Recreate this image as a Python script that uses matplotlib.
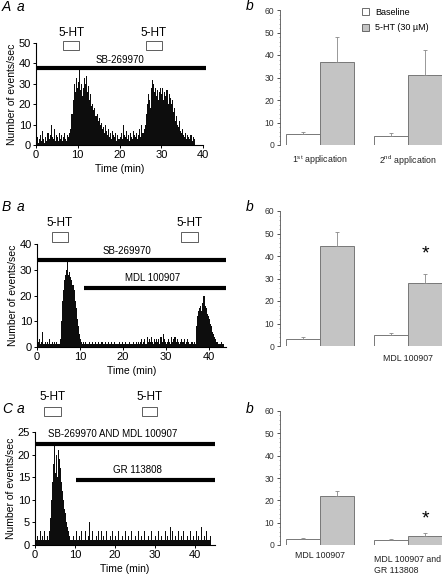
import numpy as np
import matplotlib
matplotlib.use("Agg")
import matplotlib.pyplot as plt
from matplotlib.patches import Rectangle, Patch
from matplotlib.ticker import MultipleLocator

plt.rcParams["font.family"] = ["Liberation Sans", "DejaVu Sans"]
plt.rcParams["mathtext.fontset"] = "custom"
plt.rcParams["mathtext.rm"] = "Liberation Sans"

W, H = 442, 576
BIN = 0.25  # min per histogram bin

# ---- histogram data (events/sec per bin) ----
rate_a = [
    2, 4, 1, 3, 5, 2, 7, 3,
    1, 4, 2, 6, 3, 5, 10, 4,
    3, 8, 2, 5, 4, 2, 6, 3,
    5, 2, 4, 6, 3, 2, 5, 4,
    6, 8, 15, 22, 30, 26, 33, 28,
    31, 37, 27, 30, 24, 28, 33, 30,
    34, 26, 29, 22, 25, 19, 20, 17,
    18, 14, 15, 12, 13, 10, 11, 8,
    9, 6, 10, 7, 5, 8, 4, 6,
    3, 7, 5, 4, 6, 2, 5, 3,
    4, 6, 3, 10, 5, 4, 7, 3,
    5, 2, 6, 4, 3, 7, 5, 4,
    6, 3, 5, 8, 4, 10, 6, 8,
    10, 15, 20, 25, 22, 18, 28, 32,
    30, 26, 28, 24, 27, 22, 26, 28,
    25, 28, 22, 26, 24, 27, 20, 25,
    23, 20, 22, 16, 18, 12, 14, 10,
    9, 12, 7, 6, 8, 5, 4, 6,
    3, 5, 4, 3, 5, 2, 4, 3,
]
rate_b = [
    1, 2, 3, 1, 2, 6, 1, 2,
    1, 2, 1, 3, 1, 1, 2, 1,
    2, 1, 2, 1, 1, 3, 10, 18,
    22, 26, 28, 30, 33, 28, 29, 27,
    26, 24, 22, 18, 15, 11, 8, 5,
    3, 2, 1, 2, 1, 2, 1, 1,
    2, 1, 1, 2, 1, 1, 2, 1,
    1, 2, 1, 1, 2, 1, 1, 2,
    1, 1, 2, 1, 1, 2, 1, 1,
    2, 1, 1, 1, 2, 1, 1, 2,
    1, 1, 2, 1, 1, 1, 2, 1,
    1, 2, 1, 1, 2, 1, 2, 1,
    2, 3, 1, 2, 3, 1, 4, 2,
    3, 2, 4, 2, 1, 3, 2, 3,
    2, 3, 1, 4, 2, 5, 3, 2,
    1, 2, 3, 2, 1, 4, 2, 3,
    4, 2, 3, 2, 1, 2, 3, 2,
    2, 3, 1, 2, 3, 2, 1, 2,
    2, 1, 2, 1, 8, 12, 14, 15,
    16, 14, 17, 20, 16, 15, 13, 12,
    11, 9, 8, 6, 5, 4, 3, 2,
    2, 1, 1, 2, 1, 1,
]
rate_c = [
    1, 1, 2, 1, 1, 3, 1, 2,
    1, 3, 1, 1, 2, 1, 3, 6,
    10, 14, 18, 22, 16, 20, 15, 21,
    19, 17, 14, 12, 10, 8, 7, 5,
    4, 3, 2, 1, 1, 1, 2, 1,
    1, 3, 1, 1, 2, 1, 3, 1,
    1, 1, 3, 1, 1, 2, 5, 1,
    1, 3, 1, 1, 1, 2, 1, 3,
    1, 1, 3, 1, 2, 1, 1, 3,
    1, 1, 1, 2, 1, 3, 1, 1,
    2, 1, 1, 3, 1, 1, 1, 2,
    1, 1, 3, 1, 1, 2, 1, 1,
    3, 1, 1, 1, 2, 1, 1, 3,
    1, 1, 2, 1, 1, 3, 1, 1,
    1, 2, 1, 1, 3, 1, 1, 1,
    2, 1, 1, 3, 1, 1, 2, 1,
    1, 1, 3, 1, 2, 1, 1, 4,
    1, 3, 1, 1, 2, 1, 1, 3,
    1, 1, 2, 1, 3, 1, 1, 1,
    2, 1, 1, 3, 1, 1, 2, 1,
    1, 3, 1, 2, 1, 1, 4, 1,
    1, 2, 1, 3, 1, 1, 1, 2,
]

# 5-HT application windows (min)
ht_a = [(6.5, 10.3), (26.3, 30.2)]
ht_b = [(3.5, 7.2), (33.5, 37.4)]
ht_c = [(2.25, 6.5), (26.75, 30.5)]

# drug bars: (label, start, end)
drugs_a = [("SB-269970", 0, 40.7)]
drugs_b = [("SB-269970", 0, 44), ("MDL 100907", 11, 44)]
drugs_c = [("SB-269970 AND MDL 100907", 0, 45), ("GR 113808", 10.2, 45)]

# ---- summary bar data ----
base_a = [4.7, 4.2]
base_a_err = [1.0, 1.0]
ht5_a = [36.7, 31.3]
ht5_a_err = [11.5, 10.8]
groups_a = ["1$^{\\rm st}$ application", "2$^{\\rm nd}$ application"]

base_b = [3.3, 4.7]
base_b_err = [0.5, 1.0]
ht5_b = [44.3, 28.0]
ht5_b_err = [6.2, 4.0]
groups_b = ["", "MDL 100907"]

base_c = [2.5, 2.3]
base_c_err = [0.7, 0.2]
ht5_c = [21.8, 4.0]
ht5_c_err = [2.2, 1.5]
groups_c = ["MDL 100907", ""]


def add_ax(fig, left, right, top, bottom):
    return fig.add_axes([left / W, 1 - bottom / H, (right - left) / W, (bottom - top) / H])


def trace_panel(ax, rate, xmax, ymax, ystep, ht, ht_y, drugs, drug_y, label_y):
    t = np.arange(len(rate)) * BIN
    ax.bar(t, rate, width=BIN, align="edge", color="#0d0d0d", linewidth=0)
    ax.set_xlim(0, xmax)
    ax.set_ylim(0, ymax)
    ax.set_xticks([0, 10, 20, 30, 40])
    ax.set_yticks(np.arange(0, ymax + 1, ystep))
    for s in ["top", "right"]:
        ax.spines[s].set_visible(False)
    ax.tick_params(labelsize=8, length=2.5, width=0.7, pad=1)
    ax.set_xlabel("Time (min)", fontsize=7.5, labelpad=3)
    ax.set_ylabel("Number of events/sec", fontsize=7.5, labelpad=1)
    for (t0, t1) in ht:
        ax.add_patch(Rectangle((t0, ht_y[0]), t1 - t0, ht_y[1] - ht_y[0], fill=False,
                               edgecolor="#444444", linewidth=0.6, clip_on=False))
        ax.text((t0 + t1) / 2, ht_y[2], "5-HT", ha="center", va="center", fontsize=8.5)
    for (name, t0, t1), y, ly in zip(drugs, drug_y, label_y):
        ax.plot([t0, t1], [y, y], color="black", lw=3, solid_capstyle="butt", clip_on=False)
        ax.text(ly[0], ly[1], name, ha="center", va="center", fontsize=7)


def bar_panel(ax, base, base_err, ht5, ht5_err, groups):
    x = np.arange(len(base))
    w = 0.386
    ax.bar(x - w / 2, base, width=w, color="white", edgecolor="#777777", linewidth=0.7)
    ax.bar(x + w / 2, ht5, width=w, color="#c4c4c4", edgecolor="#777777", linewidth=0.7)
    ax.errorbar(x - w / 2, base, yerr=[np.zeros(len(base)), base_err], fmt="none",
                ecolor="#888888", elinewidth=0.6, capsize=1.2, capthick=0.6)
    ax.errorbar(x + w / 2, ht5, yerr=[np.zeros(len(ht5)), ht5_err], fmt="none",
                ecolor="#888888", elinewidth=0.6, capsize=1.2, capthick=0.6)
    ax.set_xlim(-0.455, 1.386)
    ax.set_ylim(0, 60)
    ax.set_yticks(np.arange(0, 61, 10))
    ax.yaxis.set_minor_locator(MultipleLocator(2))
    for s in ["top", "right", "bottom"]:
        ax.spines[s].set_visible(False)
    ax.spines["left"].set_color("#555555")
    ax.spines["left"].set_linewidth(0.6)
    ax.tick_params(axis="y", labelsize=6.2, length=2, width=0.6, pad=2, colors="#333333")
    ax.tick_params(axis="y", which="minor", length=1, width=0.4, colors="#777777")
    ax.set_xticks([])


fig = plt.figure(figsize=(W / 100, H / 100), dpi=100)

# ---- row A ----
ax = add_ax(fig, 36, 203, 43, 145)
trace_panel(ax, rate_a, 40, 50, 10, ht_a, (46.4, 51, 55), drugs_a, [37.7], [(20, 41.7)])
ax = add_ax(fig, 280, 442, 10, 145)
bar_panel(ax, base_a, base_a_err, ht5_a, ht5_a_err, groups_a)
for i, g in enumerate(groups_a):
    ax.text(i, -3.6, g, ha="center", va="top", fontsize=6.3, color="#222222")
ax.legend(handles=[Patch(facecolor="white", edgecolor="#555555", linewidth=0.6),
                   Patch(facecolor="#c4c4c4", edgecolor="#555555", linewidth=0.6)],
          labels=["Baseline", "5-HT (30 \u00b5M)"], loc="upper left",
          bbox_to_anchor=(357 / W, 1 - 3 / H), bbox_transform=fig.transFigure,
          frameon=False, fontsize=6.5, handlelength=0.8, handleheight=0.8,
          handletextpad=0.7, labelspacing=0.75, borderpad=0)

# ---- row B ----
ax = add_ax(fig, 37, 226, 244, 347)
trace_panel(ax, rate_b, 44, 40, 10, ht_b, (40.8, 44.7, 48.2), drugs_b, [33.8, 22.8],
            [(21, 37.3), (27, 26.8)])
ax = add_ax(fig, 280, 442, 211, 346)
bar_panel(ax, base_b, base_b_err, ht5_b, ht5_b_err, groups_b)
ax.text(1, -3.6, groups_b[1], ha="center", va="top", fontsize=6.3, color="#222222")
ax.text(1 + 0.193, 41.0, "*", ha="center", va="center", fontsize=14)

# ---- row C ----
ax = add_ax(fig, 35, 215, 432, 545)
trace_panel(ax, rate_c, 45, 25, 5, ht_c, (28.5, 30.5, 32.7), drugs_c, [22.3, 14.3],
            [(19.5, 24.6), (25.7, 16.6)])
ax = add_ax(fig, 280, 442, 411, 545)
bar_panel(ax, base_c, base_c_err, ht5_c, ht5_c_err, groups_c)
ax.text(0, -2.5, groups_c[0], ha="center", va="top", fontsize=6.3, color="#222222")
ax.text(0.61, -4.5, "MDL 100907 and\nGR 113808", ha="left", va="top", fontsize=6.3,
        color="#222222", linespacing=1.25)
ax.text(1 + 0.193, 11.7, "*", ha="center", va="center", fontsize=14)

# panel letters
fig.text(2 / W, 1 - 7 / H, "A", fontsize=10, style="italic", va="center")
fig.text(17 / W, 1 - 7 / H, "a", fontsize=10, style="italic", va="center")
fig.text(2 / W, 1 - 207 / H, "B", fontsize=10, style="italic", va="center")
fig.text(17 / W, 1 - 207 / H, "a", fontsize=10, style="italic", va="center")
fig.text(2 / W, 1 - 409 / H, "C", fontsize=10, style="italic", va="center")
fig.text(17 / W, 1 - 409 / H, "a", fontsize=10, style="italic", va="center")
fig.text(246 / W, 1 - 6 / H, "b", fontsize=10, style="italic", va="center")
fig.text(246 / W, 1 - 207 / H, "b", fontsize=10, style="italic", va="center")
fig.text(246 / W, 1 - 409 / H, "b", fontsize=10, style="italic", va="center")

fig.savefig("out.png", dpi=100)
